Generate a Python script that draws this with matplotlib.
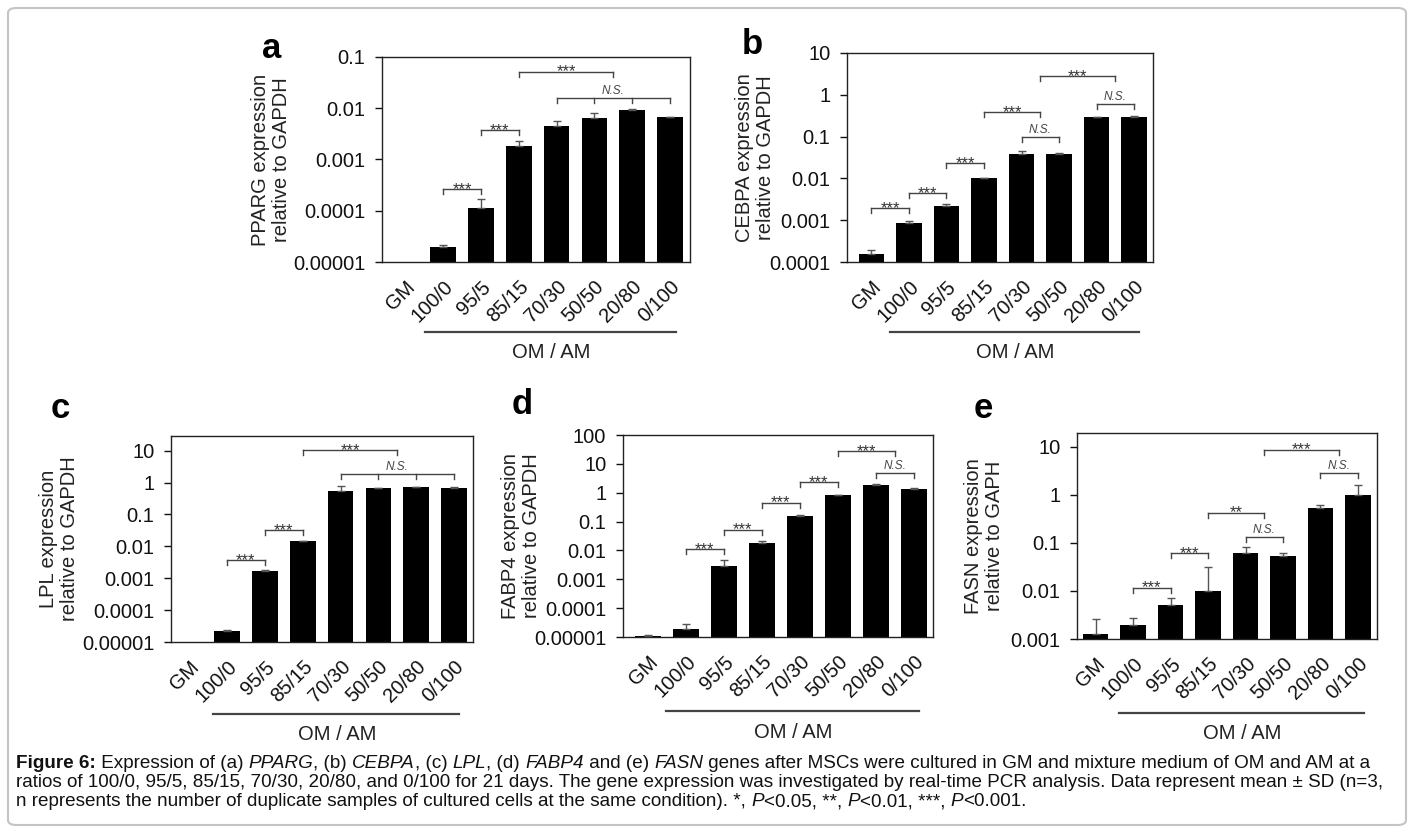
import numpy as np
import matplotlib
matplotlib.use("Agg")
import matplotlib.pyplot as plt
from matplotlib.patches import FancyBboxPatch
from matplotlib.text import Annotation
from matplotlib.ticker import LogLocator, NullLocator, FuncFormatter

plt.rcParams['font.family'] = ['Liberation Sans', 'DejaVu Sans']

groups = ["GM", "100/0", "95/5", "85/15", "70/30", "50/50", "20/80", "0/100"]

# mean values (relative expression) and upper SD
pparg = [np.nan, 2.0e-5, 1.15e-4, 1.83e-3, 4.6e-3, 6.5e-3, 9.4e-3, 6.7e-3]
pparg_sd = [np.nan, 0.1e-5, 0.52e-4, 0.47e-3, 1.0e-3, 1.6e-3, 0.1e-3, 0.1e-3]

cebpa = [1.58e-4, 8.6e-4, 2.23e-3, 0.0100, 0.0384, 0.039, 0.294, 0.294]
cebpa_sd = [0.4e-4, 1.2e-4, 0.17e-3, 0.0003, 0.006, 0.001, 0.006, 0.016]

lpl = [np.nan, 2.16e-5, 1.7e-3, 0.0145, 0.54, 0.67, 0.73, 0.67]
lpl_sd = [np.nan, 0.25e-5, 0.15e-3, 0.0005, 0.26, 0.02, 0.01, 0.05]

fabp4 = [1.1e-5, 1.9e-5, 2.9e-3, 0.0188, 0.155, 0.81, 1.85, 1.38]
fabp4_sd = [0.1e-5, 0.9e-5, 1.7e-3, 0.0032, 0.015, 0.02, 0.15, 0.1]

fasn = [1.27e-3, 1.92e-3, 5.1e-3, 0.0102, 0.063, 0.054, 0.54, 1.02]
fasn_sd = [1.29e-3, 0.88e-3, 2.0e-3, 0.022, 0.018, 0.007, 0.07, 0.63]

# significance brackets: (positions, height, label)
pparg_sig = [([1, 2], 2.6e-4, '***'), ([2, 3], 3.7e-3, '***'),
             ([3, 5.5], 0.052, '***'), ([4, 5, 6, 7], 0.016, 'N.S.')]
cebpa_sig = [([0, 1], 1.96e-3, '***'), ([1, 2], 4.5e-3, '***'), ([2, 3], 0.0234, '***'),
             ([3, 4.5], 0.38, '***'), ([4, 5], 0.096, 'N.S.'), ([4.5, 6.5], 2.77, '***'),
             ([6, 7], 0.60, 'N.S.')]
lpl_sig = [([1, 2], 3.7e-3, '***'), ([2, 3], 0.032, '***'),
           ([3, 5.5], 10.5, '***'), ([4, 5, 6, 7], 1.8, 'N.S.')]
fabp4_sig = [([1, 2], 0.011, '***'), ([2, 3], 0.053, '***'), ([3, 4], 0.45, '***'),
             ([4, 5], 2.3, '***'), ([5, 6.5], 28, '***'), ([6, 7], 4.7, 'N.S.')]
fasn_sig = [([1, 2], 0.0118, '***'), ([2, 3], 0.061, '***'), ([3, 4.5], 0.43, '**'),
            ([4, 5], 0.135, 'N.S.'), ([4.5, 6.5], 8.8, '***'), ([6, 7], 2.8, 'N.S.')]

W, H = 1414, 830
fig = plt.figure(figsize=(W / 100, H / 100), dpi=100)

# rounded outer frame
fig.patches.append(FancyBboxPatch((8 / W, 5 / H), 1398 / W, 817 / H,
                                  boxstyle="round,pad=0,rounding_size=0.006",
                                  transform=fig.transFigure, fc='none',
                                  ec='#c4c4c4', lw=1.5))

fmt = FuncFormatter(lambda v, p: np.format_float_positional(v, trim='-'))


def panel(box, letter, letter_xy, vals, sd, ylim, ylabel, ylab_x, xlim, sig, om_y):
    l, t, r, b = box
    ax = fig.add_axes([l / W, 1 - b / H, (r - l) / W, (b - t) / H])
    x = np.arange(len(groups))
    vals = np.array(vals, float)
    sd = np.array(sd, float)
    ok = np.isfinite(vals)
    ax.set_yscale('log')
    ax.bar(x[ok], vals[ok] - ylim[0], bottom=ylim[0], width=0.68,
           color='black', zorder=2)
    ax.errorbar(x[ok], vals[ok], yerr=[np.zeros(ok.sum()), sd[ok]], fmt='none',
                ecolor='#555555', elinewidth=1, capsize=3, capthick=1, zorder=3)
    ax.set_ylim(*ylim)
    ax.set_xlim(*xlim)
    ax.yaxis.set_major_locator(LogLocator(base=10, numticks=20))
    ax.yaxis.set_minor_locator(NullLocator())
    ax.yaxis.set_major_formatter(fmt)
    ax.tick_params(axis='y', direction='out', length=5, width=1, pad=7,
                   labelsize=14.5, colors='#111111')
    ax.set_xticks(x)
    ax.set_xticklabels(groups, rotation=45, ha='right', va='top',
                       rotation_mode='anchor', fontsize=14.5, color='#111111')
    ax.tick_params(axis='x', length=0, pad=11)
    for s in ax.spines.values():
        s.set_linewidth(1)
        s.set_color('#222222')
    ax.set_ylabel(ylabel, fontsize=14.5, va='center', linespacing=1.15,
                  color='#222222')
    ax.yaxis.set_label_coords(ylab_x, 0.5)

    # significance brackets
    dec_px = (b - t) / np.log10(ylim[1] / ylim[0])
    drop = 10 ** (-5.0 / dec_px)
    for ticks, y, lab in sig:
        ax.plot([ticks[0], ticks[-1]], [y, y], color='#444444', lw=1, zorder=4)
        for tk in ticks:
            ax.plot([tk, tk], [y, y * drop], color='#444444', lw=1, zorder=4)
        xm = (ticks[0] + ticks[-1]) / 2
        if lab == 'N.S.':
            ax.annotate(lab, (xm, y), xytext=(0, 3), textcoords='offset points',
                        ha='center', va='baseline', fontsize=8.5,
                        style='italic', color='#444444')
        else:
            ax.annotate(lab, (xm, y), xytext=(0, -3.5), textcoords='offset points',
                        ha='center', va='baseline', fontsize=12, color='#333333')

    # OM / AM group line under the tick labels
    ly = (b - om_y[0]) / (b - t)
    ty = (b - om_y[1]) / (b - t)
    ax.plot([0.14, 0.955], [ly, ly], transform=ax.transAxes,
            color='#444444', lw=1.6, clip_on=False)
    ax.text(0.55, ty, 'OM / AM', transform=ax.transAxes, ha='center',
            va='center', fontsize=14.5, color='#222222')

    fig.text(letter_xy[0] / W, 1 - letter_xy[1] / H, letter, ha='center',
             va='center', fontsize=25, fontweight='bold')
    return ax


panel((382, 57, 690, 262), 'a', (272, 48), pparg, pparg_sd, (1e-5, 0.1),
      'PPARG expression\nrelative to GAPDH', -0.36, (-0.62, 7.53), pparg_sig, (332, 352))
panel((847, 53, 1153, 262), 'b', (752, 45), cebpa, cebpa_sd, (1e-4, 10),
      'CEBPA expression\nrelative to GAPDH', -0.30, (-0.65, 7.5), cebpa_sig, (332, 352))
panel((171, 436, 473, 642), 'c', (60, 408), lpl, lpl_sd, (1e-5, 28.8),
      'LPL expression\nrelative to GAPDH', -0.37, (-0.48, 7.5), lpl_sig, (714, 734))
panel((623, 435, 933, 637), 'd', (522, 404), fabp4, fabp4_sd, (1e-5, 100),
      'FABP4 expression\nrelative to GAPDH', -0.33, (-0.66, 7.51), fabp4_sig, (711, 732))
panel((1077, 433, 1377, 639), 'e', (983, 408), fasn, fasn_sd, (1e-3, 19.5),
      'FASN expression\nrelative to GAPH', -0.31, (-0.5, 7.51), fasn_sig, (713, 733))

# caption with mixed bold / italic runs
caption = [
    [("Figure 6:", 'bold'), (" Expression of (a) ", ''), ("PPARG", 'it'), (", (b) ", ''),
     ("CEBPA", 'it'), (", (c) ", ''), ("LPL", 'it'), (", (d) ", ''), ("FABP4", 'it'),
     (" and (e) ", ''), ("FASN", 'it'),
     (" genes after MSCs were cultured in GM and mixture medium of OM and AM at a", '')],
    [("ratios of 100/0, 95/5, 85/15, 70/30, 20/80, and 0/100 for 21 days. The gene "
      "expression was investigated by real-time PCR analysis. Data represent mean \u00b1 SD (n=3,", '')],
    [("n represents the number of duplicate samples of cultured cells at the same "
      "condition). *, ", ''), ("P", 'it'), ("<0.05, **, ", ''), ("P", 'it'),
     ("<0.01, ***, ", ''), ("P", 'it'), ("<0.001.", '')],
]
cap_y = [772, 791, 810]
for line, yy in zip(caption, cap_y):
    prev = None
    for txt, sty in line:
        kw = dict(fontsize=13.6, color='#111111', va='bottom', ha='left')
        if sty == 'bold':
            kw['fontweight'] = 'bold'
        if sty == 'it':
            kw['style'] = 'italic'
        if prev is None:
            prev = fig.text(16 / W, 1 - yy / H, txt, **kw)
        else:
            prev = fig.add_artist(Annotation(txt, xy=(1, 0), xycoords=prev, **kw))

fig.savefig('out.png', dpi=100)
